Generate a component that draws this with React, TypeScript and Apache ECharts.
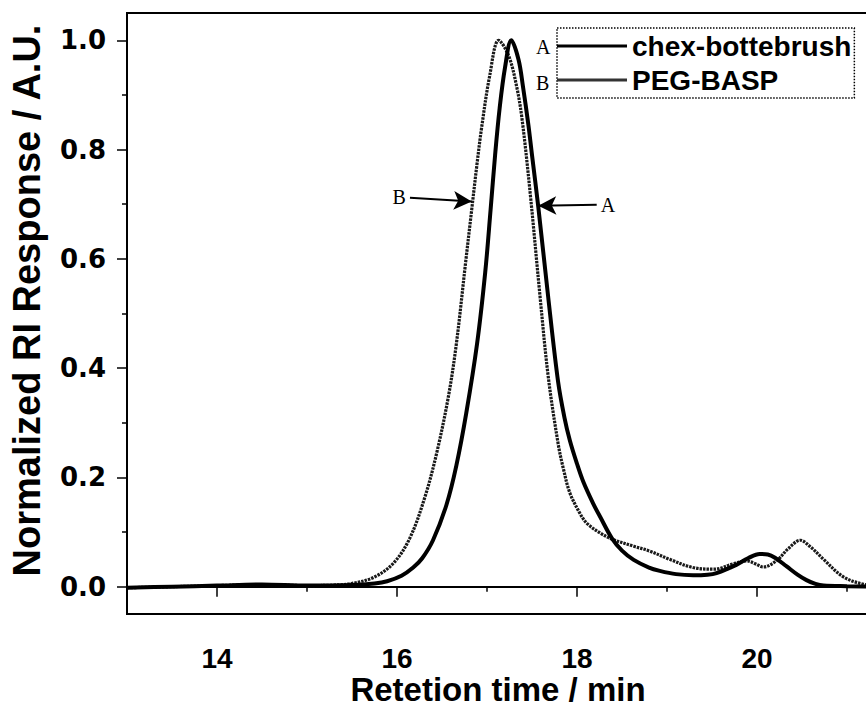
import React, { useEffect, useRef } from "react";
import * as echarts from "echarts";

// Retention time (min) and normalized RI response for each sample
const retentionA = [13.0, 13.5, 14.0, 14.5, 15.0, 15.5, 15.75, 15.89, 16.05, 16.18, 16.28, 16.4, 16.55, 16.66, 16.77, 16.89, 16.98, 17.04, 17.09, 17.14, 17.2, 17.27, 17.35, 17.4, 17.46, 17.5, 17.57, 17.68, 17.79, 17.86, 17.92, 18.0, 18.07, 18.18, 18.26, 18.39, 18.5, 18.63, 18.8, 18.92, 19.1, 19.29, 19.45, 19.55, 19.77, 19.9, 20.03, 20.12, 20.2, 20.33, 20.45, 20.55, 20.65, 20.74, 21.0, 21.5];
const responseA = [-0.002, 0.0, 0.002, 0.004, 0.002, 0.003, 0.006, 0.01, 0.02, 0.035, 0.052, 0.085, 0.15, 0.222, 0.318, 0.445, 0.575, 0.69, 0.79, 0.875, 0.95, 1.0, 0.965, 0.915, 0.845, 0.79, 0.695, 0.53, 0.375, 0.31, 0.268, 0.225, 0.192, 0.152, 0.127, 0.088, 0.066, 0.049, 0.035, 0.029, 0.023, 0.021, 0.022, 0.025, 0.04, 0.052, 0.06, 0.059, 0.053, 0.037, 0.022, 0.012, 0.005, 0.002, 0.001, 0.0];

const retentionB = [13.0, 13.5, 14.0, 14.5, 15.0, 15.3, 15.5, 15.74, 15.96, 16.14, 16.31, 16.44, 16.57, 16.66, 16.76, 16.83, 16.89, 16.94, 17.03, 17.13, 17.24, 17.33, 17.39, 17.48, 17.59, 17.68, 17.79, 17.85, 17.92, 18.03, 18.11, 18.26, 18.39, 18.63, 18.81, 19.03, 19.29, 19.52, 19.74, 19.89, 19.98, 20.07, 20.22, 20.35, 20.48, 20.6, 20.74, 20.96, 21.2, 21.5];
const responseB = [-0.002, 0.0, 0.002, 0.004, 0.002, 0.003, 0.006, 0.017, 0.043, 0.088, 0.164, 0.244, 0.347, 0.445, 0.59, 0.69, 0.775, 0.84, 0.935, 1.0, 0.972, 0.915, 0.855, 0.72, 0.53, 0.385, 0.262, 0.215, 0.172, 0.135, 0.116, 0.098, 0.087, 0.074, 0.065, 0.05, 0.035, 0.032, 0.042, 0.047, 0.042, 0.036, 0.048, 0.07, 0.085, 0.072, 0.05, 0.018, 0.004, 0.0];

const seriesNames = ["chex-bottebrush", "PEG-BASP"];
const seriesTags = ["A", "B"];

const xMajorTicks = [14, 16, 18, 20];
const xMinorTicks = [15, 17, 19, 21];
const yMajorTicks = [0, 0.2, 0.4, 0.6, 0.8, 1.0];
const yMinorTicks = [0.1, 0.3, 0.5, 0.7, 0.9];

// arrow annotations: [tail, tip] in data coords
const arrowB = [[16.144, 0.712], [16.83, 0.705]];
const arrowA = [[18.219, 0.699], [17.57, 0.697]];

const toPairs = (xs: number[], ys: number[]) => xs.map((x, i) => [x, ys[i]]);

export default function App() {
  const ref = useRef<HTMLDivElement>(null);

  useEffect(() => {
    if (!ref.current) return;
    const chart = echarts.init(ref.current, null, { renderer: "svg" });
    const sans = "Liberation Sans, Arial, sans-serif";
    const arrowLine = (pts: number[][], tag: string) => [
      {
        coord: pts[0],
        name: tag,
        label: {
          show: true,
          position: "start",
          formatter: tag,
          fontFamily: "Liberation Serif, Times New Roman, serif",
          fontSize: 20,
          color: "#000",
          distance: 4,
        },
      },
      { coord: pts[1] },
    ];
    const option: any = {
      animation: false,
      backgroundColor: "#fff",
      grid: {
        left: 127,
        top: 13,
        width: 765,
        height: 601,
        show: true,
        containLabel: false,
        outerBoundsMode: "none",
        borderColor: "#000",
        borderWidth: 2,
        backgroundColor: "transparent",
      },
      legend: {
        orient: "vertical",
        left: 557,
        top: 28,
        icon: "rect",
        itemWidth: 70,
        itemHeight: 3,
        itemGap: 6,
        padding: [4, 3, 4, 0],
        borderColor: "#000",
        borderWidth: 1.5,
        borderType: "dotted",
        textStyle: { fontFamily: sans, fontWeight: "bold", fontSize: 28, color: "#000" },
        data: seriesNames,
      },
      xAxis: [
        {
          type: "value",
          min: 13,
          max: 21.5,
          position: "bottom",
          axisLine: { show: true, lineStyle: { color: "#000", width: 2 } },
          axisTick: { show: true, inside: false, length: 10, customValues: xMajorTicks, lineStyle: { color: "#000", width: 1.5 } },
          axisLabel: {
            show: true,
            customValues: xMajorTicks,
            margin: 30,
            fontFamily: sans,
            fontWeight: "bold",
            fontSize: 28,
            lineHeight: 28,
            color: "#000",
          },
          splitLine: { show: false },
          name: "Retetion time / min",
          nameLocation: "middle",
          nameMoveOverlap: false,
          nameGap: 59,
          nameTextStyle: { fontFamily: sans, fontWeight: "bold", fontSize: 33, lineHeight: 33, color: "#000", padding: [0, 23, 0, 0] },
        },
        {
          type: "value",
          min: 13,
          max: 21.5,
          position: "bottom",
          axisLine: { show: false },
          axisTick: { show: true, inside: false, length: 5, customValues: xMinorTicks, lineStyle: { color: "#000", width: 1.5 } },
          axisLabel: { show: false },
          splitLine: { show: false },
        },
      ],
      yAxis: [
        {
          type: "value",
          min: -0.05,
          max: 1.05,
          position: "left",
          axisLine: { show: true, lineStyle: { color: "#000", width: 2 } },
          axisTick: { show: true, inside: false, length: 10, customValues: yMajorTicks, lineStyle: { color: "#000", width: 1.5 } },
          axisLabel: {
            show: true,
            customValues: yMajorTicks,
            formatter: (v: number) => v.toFixed(1),
            margin: 21,
            fontFamily: "DejaVu Sans, Verdana, sans-serif",
            fontWeight: "bold",
            fontSize: 26,
            color: "#000",
          },
          splitLine: { show: false },
          name: "Normalized RI Response / A.U.",
          nameLocation: "middle",
          nameMoveOverlap: false,
          nameGap: 81,
          nameTextStyle: { fontFamily: sans, fontWeight: "bold", fontSize: 38, color: "#000", padding: [0, 0, 0, 26] },
        },
        {
          type: "value",
          min: -0.05,
          max: 1.05,
          position: "left",
          axisLine: { show: false },
          axisTick: { show: true, inside: false, length: 5, customValues: yMinorTicks, lineStyle: { color: "#000", width: 1.5 } },
          axisLabel: { show: false },
          splitLine: { show: false },
        },
      ],
      graphic: [
        { type: "text", left: 536, top: 37, style: { text: seriesTags[0], font: "20px 'Liberation Serif', serif", fill: "#000" } },
        { type: "text", left: 536, top: 73, style: { text: seriesTags[1], font: "20px 'Liberation Serif', serif", fill: "#000" } },
      ],
      series: [
        {
          name: seriesNames[0],
          type: "line",
          xAxisIndex: 0,
          yAxisIndex: 0,
          data: toPairs(retentionA, responseA),
          symbol: "none",
          smooth: 0.35,
          lineStyle: { color: "#000", width: 4 },
          itemStyle: { color: "#000" },
          z: 3,
          markLine: {
            silent: true,
            symbol: ["none", "arrow"],
            symbolSize: [14, 18],
            lineStyle: { type: "solid", color: "#000", width: 2 },
            data: [arrowLine(arrowB, seriesTags[1]), arrowLine(arrowA, seriesTags[0])],
          },
        },
        {
          name: seriesNames[1],
          type: "line",
          xAxisIndex: 0,
          yAxisIndex: 0,
          data: toPairs(retentionB, responseB),
          symbol: "none",
          smooth: 0.35,
          lineStyle: { color: "#1a1a1a", width: 3.2, type: [2.5, 1] },
          itemStyle: { color: "#333" },
          z: 2,
        },
      ],
    };
    chart.setOption(option);
    return () => chart.dispose();
  }, []);

  return (
    <div style={{ position: "fixed", left: 0, top: 0, width: 866, height: 706, overflow: "hidden", background: "#fff" }}>
      <div ref={ref} style={{ width: 900, height: 706 }} />
    </div>
  );
}
